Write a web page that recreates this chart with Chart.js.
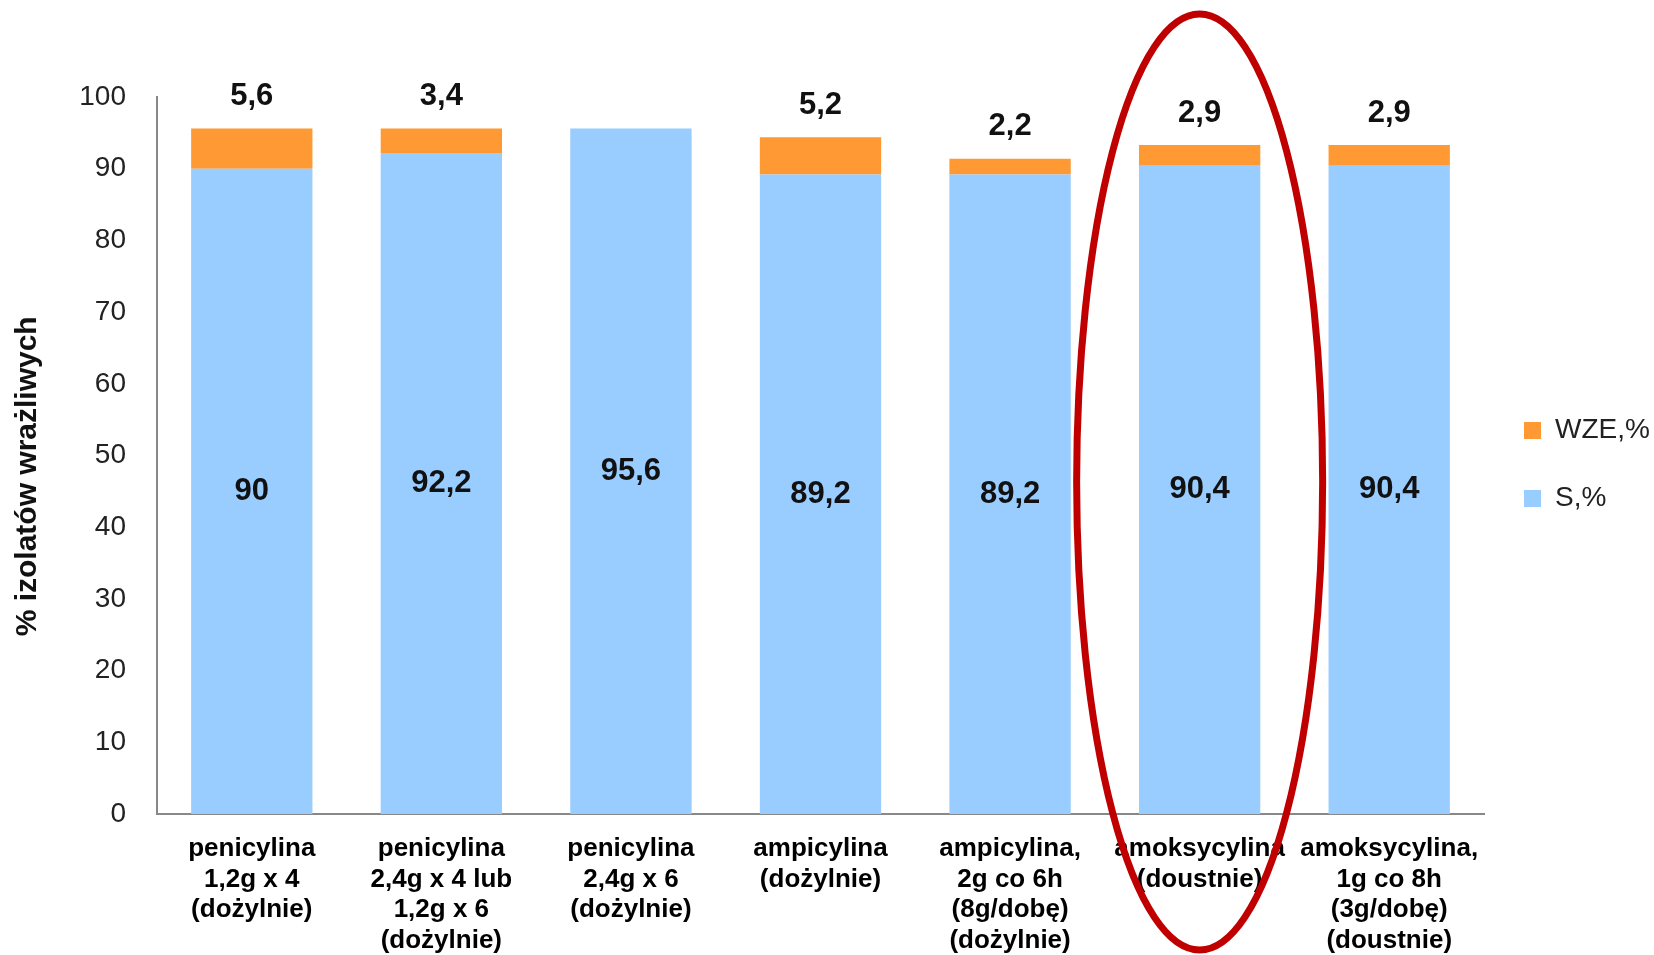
<!DOCTYPE html>
<html>
<head>
<meta charset="utf-8">
<script src="https://cdn.jsdelivr.net/npm/chart.js@4/dist/chart.umd.min.js"></script>
<style>
	html, body { margin: 0; padding: 0; background: #fff; }
</style>
</head>
<body>
<canvas id="graficoWrazliwosc" width="1654" height="955"></canvas>
<script>
var kategorie = [
	['penicylina', '1,2g x 4', '(dożylnie)'],
	['penicylina', '2,4g x 4 lub', '1,2g x 6', '(dożylnie)'],
	['penicylina', '2,4g x 6', '(dożylnie)'],
	['ampicylina', '(dożylnie)'],
	['ampicylina,', '2g co 6h', '(8g/dobę)', '(dożylnie)'],
	['amoksycylina', '(doustnie)'],
	['amoksycylina,', '1g co 8h', '(3g/dobę)', '(doustnie)']
];
var wartosciS = [90, 92.2, 95.6, 89.2, 89.2, 90.4, 90.4];
var wartosciWZE = [5.6, 3.4, 0, 5.2, 2.2, 2.9, 2.9];
var tickiY = [0, 10, 20, 30, 40, 50, 60, 70, 80, 90, 100];

var czcionka = '"Liberation Sans", Arial, sans-serif';

function formatuj(v) {
	return String(v).replace('.', ',');
}

// etykiety wartosci na slupkach
var etykietyPlugin = {
	id: 'etykiety',
	afterDatasetsDraw: function(chart) {
		var ctx = chart.ctx;
		ctx.save();
		ctx.font = 'bold 31px ' + czcionka;
		ctx.fillStyle = '#111';
		ctx.textAlign = 'center';
		ctx.textBaseline = 'middle';
		chart.getDatasetMeta(0).data.forEach(function(bar, i) {
			ctx.fillText(formatuj(wartosciS[i]), bar.x, (bar.y + bar.base) / 2);
		});
		chart.getDatasetMeta(1).data.forEach(function(bar, i) {
			if (!wartosciWZE[i]) return;
			ctx.fillText(formatuj(wartosciWZE[i]), bar.x, bar.y - 32);
		});
		ctx.restore();
	}
};

// czerwona elipsa wokol amoksycyliny
var elipsaPlugin = {
	id: 'elipsa',
	afterDraw: function(chart) {
		var ctx = chart.ctx;
		var x = chart.scales.x.getPixelForValue(5);
		ctx.save();
		ctx.beginPath();
		ctx.ellipse(x, 482, 123, 468, 0, 0, 2 * Math.PI);
		ctx.strokeStyle = '#C00000';
		ctx.lineWidth = 7;
		ctx.stroke();
		ctx.restore();
	}
};

var ctx = document.getElementById('graficoWrazliwosc').getContext('2d');
var grafico = new Chart(ctx, {
	type: 'bar',
	data: {
		labels: kategorie,
		datasets: [{
			label: 'S,%',
			backgroundColor: '#99CCFF',
			data: wartosciS
		}, {
			label: 'WZE,%',
			backgroundColor: '#FF9933',
			data: wartosciWZE
		}]
	},
	options: {
		responsive: false,
		animation: false,
		devicePixelRatio: 1,
		layout: { padding: { top: 97, left: 0, right: 0, bottom: 0 } },
		barPercentage: 0.64,
		categoryPercentage: 1,
		plugins: {
			tooltip: { enabled: false },
			legend: {
				position: 'right',
				fullSize: false,
				reverse: true,
				maxWidth: 170,
				title: {
					display: true,
					text: ' ',
					padding: { top: 8, bottom: 0 },
					font: { size: 10, lineHeight: 1 }
				},
				labels: {
					boxWidth: 17,
					boxHeight: 17,
					padding: 40,
					color: '#222',
					font: { family: czcionka, size: 28 }
				}
			}
		},
		scales: {
			x: {
				stacked: true,
				grid: { display: false },
				border: { display: true, color: '#888', width: 2 },
				ticks: {
					autoSkip: false,
					maxRotation: 0,
					padding: 12,
					color: '#000',
					font: { family: czcionka, size: 26, weight: 'bold', lineHeight: 1.17 }
				},
				afterFit: function(scale) { scale.height = 141; }
			},
			y: {
				stacked: true,
				min: 0,
				max: 100,
				afterBuildTicks: function(scale) {
					scale.ticks = tickiY.map(function(v) { return { value: v }; });
				},
				grid: { display: false },
				border: { display: true, color: '#888', width: 2 },
				ticks: {
					padding: 23,
					color: '#222',
					font: { family: czcionka, size: 28 }
				},
				title: {
					display: true,
					// spacje na koncu przesuwaja tytul nizej, jak w oryginale
					text: '% izolatów wrażliwych     ',
					color: '#111',
					padding: { top: 10, bottom: 0 },
					font: { family: czcionka, size: 30, weight: 'bold' }
				},
				afterFit: function(scale) { scale.width = 157; }
			}
		}
	},
	plugins: [etykietyPlugin, elipsaPlugin]
});
</script>
</body>
</html>
